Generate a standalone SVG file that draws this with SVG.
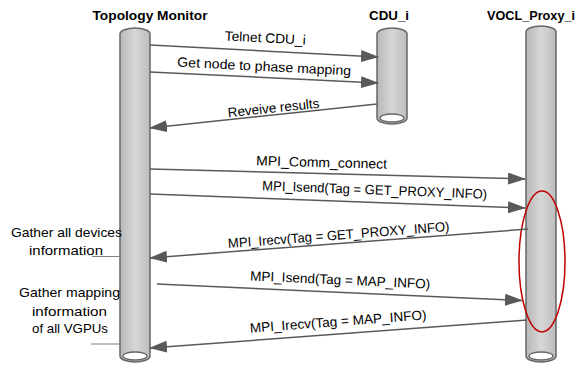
<svg xmlns="http://www.w3.org/2000/svg" width="576" height="369" viewBox="0 0 576 369">
<defs>
<linearGradient id="cyl" x1="0" y1="0" x2="1" y2="0">
<stop offset="0" stop-color="#b8b8b8"/>
<stop offset="0.5" stop-color="#d6d6d6"/>
<stop offset="1" stop-color="#bdbdbd"/>
</linearGradient>
<marker id="ah" markerUnits="userSpaceOnUse" markerWidth="18" markerHeight="12" viewBox="0 0 18 12" refX="17" refY="6" orient="auto">
<path d="M0,0 L18,6 L0,12 Z" fill="#595959"/>
</marker>
</defs>
<style>
.body{fill:url(#cyl);stroke:#666;stroke-width:1.5}
.hole{fill:#fff;stroke:#666;stroke-width:1.3}
.title{font-family:"Liberation Sans",Arial,sans-serif;font-size:13px;font-weight:bold;fill:#000;text-anchor:middle}
.lbl{font-family:"Liberation Sans",Arial,sans-serif;font-size:13.5px;fill:#000;text-anchor:middle}
.msg{stroke:#595959;stroke-width:1.5;fill:none;marker-end:url(#ah)}
.tick{stroke:#7f7f7f;stroke-width:1;fill:none}
</style>
<g id="topology-monitor">
<text class="title" x="150" y="20" textLength="115" lengthAdjust="spacingAndGlyphs">Topology Monitor</text>
<path class="body" d="M120,34 A15,6 0 0 1 150,34 V356 A15,6 0 0 1 120,356 Z"/>
<ellipse class="hole" cx="135" cy="356" rx="12" ry="4"/>
</g>
<g id="cdu-i">
<text class="title" x="389" y="20" textLength="40" lengthAdjust="spacingAndGlyphs">CDU_i</text>
<path class="body" d="M377,34 A15,6 0 0 1 407,34 V118 A15,6 0 0 1 377,118 Z"/>
<ellipse class="hole" cx="392" cy="118" rx="12" ry="4"/>
</g>
<g id="vocl-proxy-i">
<text class="title" x="531" y="20" textLength="88" lengthAdjust="spacingAndGlyphs">VOCL_Proxy_i</text>
<path class="body" d="M526,32 A15,6 0 0 1 556,32 V356 A15,6 0 0 1 526,356 Z"/>
<ellipse class="hole" cx="541" cy="356" rx="12" ry="4"/>
</g>
<g id="highlight">
<ellipse cx="542" cy="261.5" rx="23" ry="70.5" fill="none" stroke="#c00000" stroke-width="1.5"/>
</g>
<g id="notes">
<text class="lbl" x="66.5" y="236.5" textLength="111" lengthAdjust="spacingAndGlyphs">Gather all devices</text>
<text class="lbl" x="66" y="255" textLength="74" lengthAdjust="spacingAndGlyphs">information</text>
<line class="tick" x1="92" y1="256.5" x2="120" y2="256.5"/>
<text class="lbl" x="69.5" y="297" textLength="101" lengthAdjust="spacingAndGlyphs">Gather mapping</text>
<text class="lbl" x="69.5" y="316" textLength="75" lengthAdjust="spacingAndGlyphs">information</text>
<text class="lbl" x="70" y="333" textLength="76" lengthAdjust="spacingAndGlyphs">of all VGPUs</text>
<line class="tick" x1="91" y1="344" x2="120" y2="344"/>
</g>
<g id="connectors">
<line class="msg" x1="150" y1="45" x2="378" y2="57"/>
<line class="msg" x1="150" y1="72" x2="378" y2="83"/>
<line class="msg" x1="377" y1="104" x2="150" y2="128"/>
<line class="msg" x1="150" y1="169" x2="525" y2="179"/>
<line class="msg" x1="150" y1="194" x2="525" y2="208"/>
<line class="msg" x1="528" y1="229" x2="150" y2="258"/>
<line class="msg" x1="157" y1="284" x2="522" y2="300.5"/>
<line class="msg" x1="527" y1="320" x2="150" y2="348"/>
</g>
<g id="labels">
<text class="lbl" transform="translate(265,42.5) rotate(2.9)" textLength="81" lengthAdjust="spacingAndGlyphs">Telnet CDU_i</text>
<text class="lbl" transform="translate(264,71) rotate(2.9)" textLength="174" lengthAdjust="spacingAndGlyphs">Get node to phase mapping</text>
<text class="lbl" transform="translate(274,112.5) rotate(-6)" textLength="92" lengthAdjust="spacingAndGlyphs">Reveive results</text>
<text class="lbl" transform="translate(321.5,167) rotate(1.5)" textLength="131" lengthAdjust="spacingAndGlyphs">MPI_Comm_connect</text>
<text class="lbl" transform="translate(374.5,194.5) rotate(2.2)" textLength="225" lengthAdjust="spacingAndGlyphs">MPI_Isend(Tag = GET_PROXY_INFO)</text>
<text class="lbl" transform="translate(339,239.5) rotate(-4.4)" textLength="222" lengthAdjust="spacingAndGlyphs">MPI_Irecv(Tag = GET_PROXY_INFO)</text>
<text class="lbl" transform="translate(340,284.5) rotate(2.6)" textLength="180" lengthAdjust="spacingAndGlyphs">MPI_Isend(Tag = MAP_INFO)</text>
<text class="lbl" transform="translate(338.5,326) rotate(-4.3)" textLength="177" lengthAdjust="spacingAndGlyphs">MPI_Irecv(Tag = MAP_INFO)</text>
</g>
</svg>
